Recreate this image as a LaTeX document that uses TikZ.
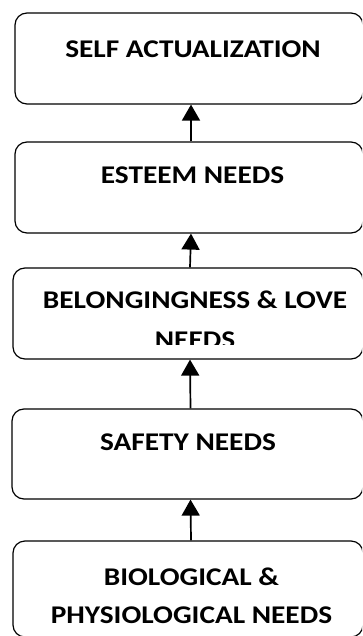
\documentclass[tikz,border=0pt]{standalone}
\usepackage{fontspec}
\setmainfont{Carlito}
\usetikzlibrary{positioning,arrows.meta}

\begin{document}
\begin{tikzpicture}[x=1pt,y=1pt,
  needbox/.style={draw,line width=1.2pt,rounded corners=12pt,minimum width=348pt,inner sep=0pt},
  needtext/.style={font=\fontsize{25.5}{40}\selectfont\bfseries,align=center,inner sep=0pt,xscale=1.15},
  uparrow/.style={-{Triangle[width=18pt,length=16pt]},line width=1.7pt}]
 \useasboundingbox (0,0) rectangle (362,-636);
 \clip (0,0) rectangle (362,-636);
 % boxes, top to bottom
 \node[needbox,minimum height=91pt] (self) at (189,-58.5) {};
 \node[needbox,minimum height=91pt] (esteem) at (189,-187.5) {};
 \node[needbox,minimum height=91pt,minimum width=350pt] (love) at (188,-313.5) {};
 \node[needbox,minimum height=90pt,minimum width=351pt] (safety) at (187.5,-454) {};
 \node[needbox,minimum height=96pt,minimum width=350pt] (bio) at (188,-589) {};
 % labels
 \node[needtext] (selftxt) at (193,-49) {SELF ACTUALIZATION};
 \node[needtext] (esteemtxt) at (192.5,-175) {ESTEEM NEEDS};
 \begin{scope}
  \clip (0,-268) rectangle (362,-344.5);
  \node[needtext] (lovetxt) at (195,-320) {BELONGINGNESS \& LOVE\\NEEDS};
 \end{scope}
 \node[needtext] (safetytxt) at (188,-442.7) {SAFETY NEEDS};
 \node[needtext,font=\fontsize{25.5}{38}\selectfont\bfseries] (biotxt) at (191.5,-596) {BIOLOGICAL \&\\PHYSIOLOGICAL NEEDS};
 % arrows
 \draw[uparrow] ([xshift=2pt]esteem.north) -- ([xshift=2pt]self.south);
 \draw[uparrow] ([xshift=2pt]love.north) -- ([xshift=2pt]esteem.south);
 \draw[uparrow] ([xshift=3pt]safety.north) -- ([xshift=2pt]love.south);
 \draw[uparrow] ([xshift=3pt]bio.north) -- ([xshift=3pt]safety.south);
\end{tikzpicture}
\end{document}
